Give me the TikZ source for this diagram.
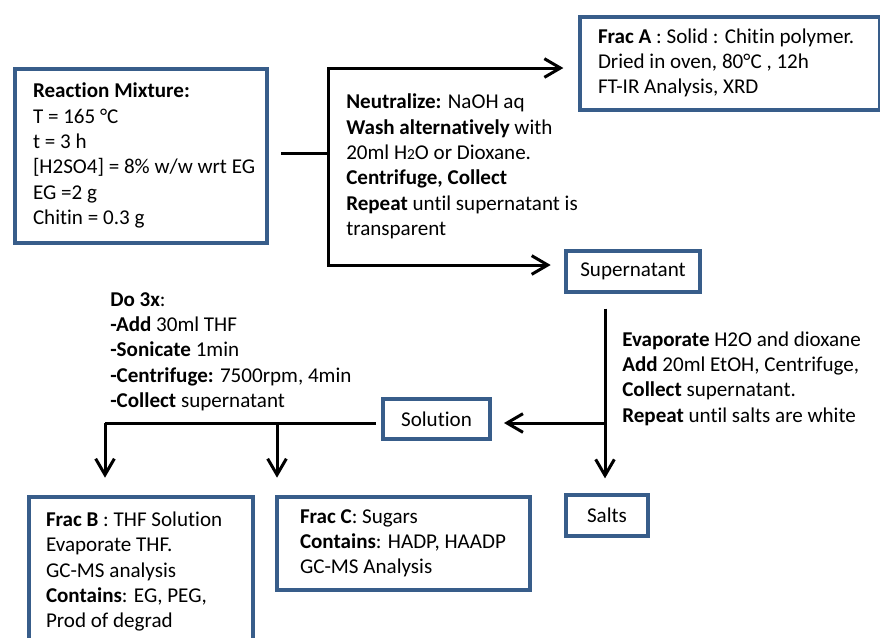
\documentclass[tikz,border=0pt]{standalone}
\usepackage{fontspec}
\setmainfont{Carlito}[Ligatures=NoCommon]
\usepackage{tikz}
\usetikzlibrary{arrows.meta, calc}
\definecolor{boxblue}{RGB}{56,93,138}
\newcommand{\flowfont}{\fontsize{15.8}{19}\selectfont}
% left-aligned lines in a block of fixed width
\newcommand{\leftblock}[2]{\makebox[#1][l]{\begin{tabular}{@{}l@{}}#2\end{tabular}}}

\begin{document}
\begin{tikzpicture}[
  x=0.75pt, y=-0.75pt,
  box/.style={draw=boxblue, fill=white, line width=3pt, anchor=north west,
              font=\flowfont, inner ysep=0pt},
  tagbox/.style={draw=boxblue, fill=white, line width=3pt, anchor=north west,
                 font=\flowfont, align=center, inner sep=0pt},
  note/.style={font=\flowfont, align=left, anchor=west, inner sep=0pt},
  line/.style={line width=2.25pt},
  arr/.style={line width=2.25pt, -{Straight Barb[length=12pt, width=14pt]}},
]
  \useasboundingbox (0,0) rectangle (880,637);

  % Boxes
  \node[box, inner xsep=13.5pt, minimum height=130.5pt] (mix) at (13,67)
    {\leftblock{162pt}{{\bfseries Reaction Mixture:}\\ T = 165 °C\\ t = 3 h\\ {[H2SO4] = 8\% w/w wrt EG}\\ EG =2 g\\ Chitin = 0.3 g}};
  \node[box, inner xsep=13.5pt, minimum height=69.75pt] (fracA) at (578,15)
    {\leftblock{198pt}{{\bfseries Frac A} : Solid : Chitin polymer.\\ Dried in oven, 80°C , 12h\\ FT-IR Analysis, XRD}};
  \node[tagbox, minimum width=100.5pt, minimum height=30.75pt] (super) at (564,249) {Supernatant};
  \node[tagbox, minimum width=80.25pt, minimum height=30pt] (solution) at (381,397) {Solution};
  \node[tagbox, minimum width=61.5pt, minimum height=30.75pt] (salts) at (564,493) {Salts};
  \node[box, inner xsep=12.75pt, minimum height=112.5pt] (fracB) at (27,495)
    {\leftblock{142.5pt}{{\bfseries Frac B} : THF Solution\\ Evaporate THF.\\ GC-MS analysis\\ {\bfseries Contains}: EG, PEG,\\ Prod of degrad}};
  \node[box, inner xsep=17.25pt, minimum height=69.75pt] (fracC) at (275,495)
    {\leftblock{155.25pt}{{\bfseries Frac C}: Sugars\\ {\bfseries Contains}: HADP, HAADP\\ GC-MS Analysis}};

  % Step notes
  \node[note] (wash) at (346,166.5)
    {{\bfseries Neutralize:} NaOH aq\\ {\bfseries Wash alternatively} with\\ 20ml H{\fontsize{11.5}{12}\selectfont 2}O or Dioxane.\\ {\bfseries Centrifuge, Collect}\\ {\bfseries Repeat} until supernatant is\\ transparent};
  \node[note] (evap) at (622,378.5)
    {{\bfseries Evaporate} H2O and dioxane\\ {\bfseries Add} 20ml EtOH, Centrifuge,\\ {\bfseries Collect} supernatant.\\ {\bfseries Repeat} until salts are white};
  \node[note] (thf) at (110,351.5)
    {{\bfseries Do 3x}:\\ {\bfseries -Add} 30ml THF\\ {\bfseries -Sonicate} 1min\\ {\bfseries -Centrifuge:} 7500rpm, 4min\\ {\bfseries -Collect} supernatant};

  % Split points
  \coordinate (split) at (328,153);
  \coordinate (upper) at (328,68);
  \coordinate (lower) at (328,265);
  \coordinate (branch) at (605,423);
  \coordinate (left) at (105,423);
  \coordinate (mid) at (277,423);

  % Arrows
  \draw[line, shorten <=9pt] (mix.east |- split) -- (split);
  \draw[arr, shorten >=11pt] (split) -- (upper) -- (upper -| fracA.west);
  \draw[arr, shorten >=10pt] (split) -- (lower) -- (lower -| super.west);
  \draw[arr, shorten <=11pt, shorten >=11pt] (branch |- super.south) -- (branch |- salts.north);
  \draw[arr, shorten >=9pt] (branch) -- (branch -| solution.east);
  \draw[line, shorten <=4pt] (solution.west |- left) -- (left);
  \draw[arr, shorten >=13pt] (left) -- (left |- fracB.north);
  \draw[arr, shorten >=13pt] (mid) -- (mid |- fracC.north);
\end{tikzpicture}
\end{document}
